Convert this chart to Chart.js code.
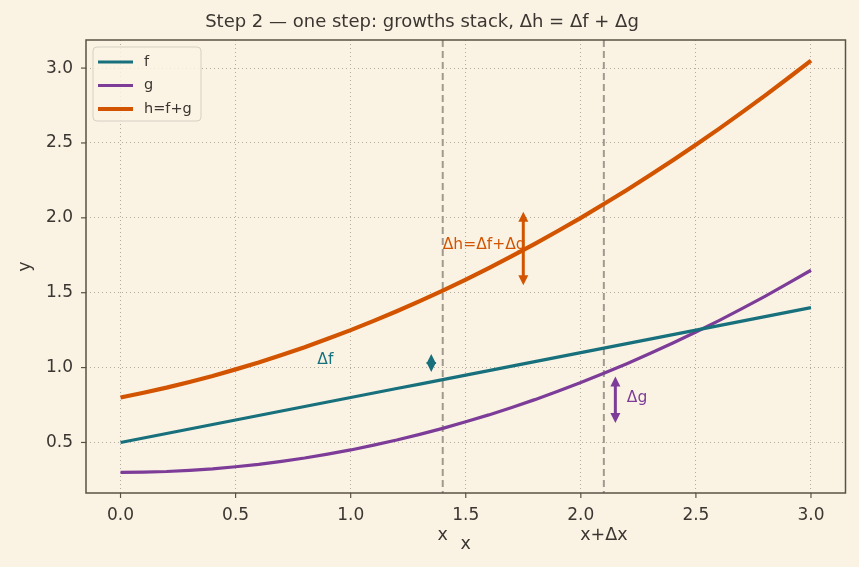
<!DOCTYPE html>
<html>
<head>
<meta charset="utf-8">
<script src="https://cdn.jsdelivr.net/npm/chart.js@4.4.0/dist/chart.umd.min.js"></script>
<style>
  html, body { margin: 0; padding: 0; background: #faf3e4; }
  canvas { display: block; }
</style>
</head>
<body>
<canvas id="stepChart" width="859" height="567"></canvas>
<script>
// values
const xs = [0, 0.1, 0.2, 0.3, 0.4, 0.5, 0.6, 0.7, 0.8, 0.9, 1.0, 1.1, 1.2, 1.3, 1.4, 1.5,
    1.6, 1.7, 1.8, 1.9, 2.0, 2.1, 2.2, 2.3, 2.4, 2.5, 2.6, 2.7, 2.8, 2.9, 3.0]
const fVals = [0.50, 0.53, 0.56, 0.59, 0.62, 0.65, 0.68, 0.71, 0.74, 0.77, 0.80, 0.83, 0.86, 0.89, 0.92, 0.95,
    0.98, 1.01, 1.04, 1.07, 1.10, 1.13, 1.16, 1.19, 1.22, 1.25, 1.28, 1.31, 1.34, 1.37, 1.40]
const gVals = [0.300, 0.302, 0.306, 0.314, 0.324, 0.338, 0.354, 0.374, 0.396, 0.422, 0.450, 0.482, 0.516, 0.554, 0.594, 0.638,
    0.684, 0.734, 0.786, 0.842, 0.900, 0.962, 1.026, 1.094, 1.164, 1.238, 1.314, 1.394, 1.476, 1.562, 1.650]
const hVals = [0.800, 0.832, 0.866, 0.904, 0.944, 0.988, 1.034, 1.084, 1.136, 1.192, 1.250, 1.312, 1.376, 1.444, 1.514, 1.588,
    1.664, 1.744, 1.826, 1.912, 2.000, 2.092, 2.186, 2.284, 2.384, 2.488, 2.594, 2.704, 2.816, 2.932, 3.050]
const seriesNames = ["f", "g", "h=f+g"]
const xTicks = [0, 0.5, 1.0, 1.5, 2.0, 2.5, 3.0]
const yTicks = [0.5, 1.0, 1.5, 2.0, 2.5, 3.0]

// the two marked positions
const markerX = [1.4, 2.1]
const markerLabels = ["x", "x+Δx"]

// growth arrows: x, bottom, top  (f, h, g)
const arrowX = [1.35, 1.75, 2.15]
const arrowLow = [0.97, 1.55, 0.63]
const arrowHigh = [1.09, 2.04, 0.94]
const arrowText = ["Δf", "Δh=Δf+Δg", "Δg"]
const arrowSeries = [0, 2, 1]
const textX = [0.89, 1.40, 2.20]
const textY = [1.05, 1.82, 0.80]

const colors = ["#17707c", "#7d3c98", "#d35400"]
const ink = "#3b3631"
const frame = "#5b5044"
const font = "DejaVu Sans"

const toPoints = vals => vals.map((v, i) => ({ x: xs[i], y: v }))

function drawArrow(ctx, px, y0, y1, color) {
    const head = 10, half = 5
    ctx.save()
    ctx.strokeStyle = color
    ctx.fillStyle = color
    ctx.lineWidth = 3
    ctx.beginPath()
    ctx.moveTo(px, y0 - head + 1)
    ctx.lineTo(px, y1 + head - 1)
    if (y0 - y1 > 2 * head) ctx.stroke()
    ctx.beginPath()
    ctx.moveTo(px, y1)
    ctx.lineTo(px - half, y1 + head)
    ctx.lineTo(px + half, y1 + head)
    ctx.closePath()
    ctx.fill()
    ctx.beginPath()
    ctx.moveTo(px, y0)
    ctx.lineTo(px - half, y0 - head)
    ctx.lineTo(px + half, y0 - head)
    ctx.closePath()
    ctx.fill()
    ctx.restore()
}

const paperPlugin = {
    id: "paper",
    beforeDraw(chart) {
        const ctx = chart.ctx
        ctx.save()
        ctx.fillStyle = "#faf3e4"
        ctx.fillRect(0, 0, chart.width, chart.height)
        ctx.restore()
    },
    beforeDatasetsDraw(chart) {
        const { ctx, chartArea, scales } = chart
        ctx.save()
        ctx.strokeStyle = "#a09a8e"
        ctx.lineWidth = 2
        ctx.setLineDash([7, 4])
        markerX.forEach(mx => {
            const px = scales.x.getPixelForValue(mx)
            ctx.beginPath()
            ctx.moveTo(px, chartArea.top)
            ctx.lineTo(px, chartArea.bottom)
            ctx.stroke()
        })
        ctx.restore()
    },
    afterDraw(chart) {
        const { ctx, chartArea, scales } = chart
        const xs_ = scales.x, ys_ = scales.y
        ctx.save()

        // frame
        ctx.strokeStyle = frame
        ctx.lineWidth = 1.5
        ctx.strokeRect(chartArea.left, chartArea.top, chartArea.right - chartArea.left, chartArea.bottom - chartArea.top)

        // tick marks
        ctx.lineWidth = 1.2
        xTicks.forEach(t => {
            const px = xs_.getPixelForValue(t)
            ctx.beginPath()
            ctx.moveTo(px, chartArea.bottom)
            ctx.lineTo(px, chartArea.bottom + 5)
            ctx.stroke()
        })
        yTicks.forEach(t => {
            const py = ys_.getPixelForValue(t)
            ctx.beginPath()
            ctx.moveTo(chartArea.left - 5, py)
            ctx.lineTo(chartArea.left, py)
            ctx.stroke()
        })

        // arrows and their labels
        arrowX.forEach((ax, i) => {
            const c = colors[arrowSeries[i]]
            drawArrow(ctx, xs_.getPixelForValue(ax), ys_.getPixelForValue(arrowLow[i]), ys_.getPixelForValue(arrowHigh[i]), c)
            ctx.fillStyle = c
            ctx.font = "15.5px '" + font + "'"
            ctx.textBaseline = "middle"
            ctx.textAlign = i == 0 ? "center" : "left"
            ctx.fillText(arrowText[i], xs_.getPixelForValue(textX[i]), ys_.getPixelForValue(textY[i]))
        })

        // marker labels under the axis
        ctx.fillStyle = ink
        ctx.font = "17.5px '" + font + "'"
        ctx.textAlign = "center"
        ctx.textBaseline = "middle"
        markerX.forEach((mx, i) => {
            ctx.fillText(markerLabels[i], xs_.getPixelForValue(mx), 535)
        })

        // axis titles
        ctx.fillText("x", (chartArea.left + chartArea.right) / 2, 544)
        ctx.save()
        ctx.translate(25, (chartArea.top + chartArea.bottom) / 2)
        ctx.rotate(-Math.PI / 2)
        ctx.fillText("y", 0, 0)
        ctx.restore()

        // title
        ctx.font = "18px '" + font + "'"
        ctx.fillText("Step 2 — one step: growths stack, Δh = Δf + Δg", 422, 22)

        // legend
        const lx = chartArea.left + 7, ly = chartArea.top + 7
        ctx.fillStyle = "rgba(250,243,228,0.85)"
        ctx.strokeStyle = "#d6cfc2"
        ctx.lineWidth = 1
        ctx.beginPath()
        ctx.roundRect(lx, ly, 108, 74, 4)
        ctx.fill()
        ctx.stroke()
        ctx.font = "14.5px '" + font + "'"
        ctx.textAlign = "left"
        seriesNames.forEach((name, i) => {
            const yy = ly + 15 + i * 23.5
            ctx.strokeStyle = colors[i]
            ctx.lineWidth = i == 2 ? 4 : 3
            ctx.beginPath()
            ctx.moveTo(lx + 5, yy)
            ctx.lineTo(lx + 40, yy)
            ctx.stroke()
            ctx.fillStyle = ink
            ctx.fillText(name, lx + 51, yy)
        })
        ctx.restore()
    }
}

const seriesVals = [fVals, gVals, hVals]

new Chart("stepChart", {
    type: "line",
    data: {
        datasets: seriesNames.map((name, i) => ({
            label: name,
            data: toPoints(seriesVals[i]),
            borderColor: colors[i],
            borderWidth: i == 2 ? 4.2 : 3.2,
            pointRadius: 0,
            tension: 0,
            fill: false
        }))
    },
    options: {
        responsive: false,
        animation: false,
        layout: { padding: { top: 40, right: 13.5, left: 0, bottom: 0 } },
        plugins: {
            legend: { display: false },
            title: { display: false },
            tooltip: { enabled: false }
        },
        scales: {
            x: {
                type: "linear",
                min: -0.15,
                max: 3.15,
                afterFit: scale => { scale.height = 74 },
                afterBuildTicks: scale => { scale.ticks = xTicks.map(v => ({ value: v })) },
                grid: { color: "#b3ab9d", lineWidth: 1, drawTicks: false },
                border: { display: false, dash: [1, 3] },
                ticks: {
                    color: ink,
                    font: { family: font, size: 17 },
                    padding: 12,
                    maxRotation: 0,
                    callback: v => Number(v).toFixed(1)
                }
            },
            y: {
                min: 0.1625,
                max: 3.1875,
                afterFit: scale => { scale.width = 86 },
                afterBuildTicks: scale => { scale.ticks = yTicks.map(v => ({ value: v })) },
                grid: { color: "#b3ab9d", lineWidth: 1, drawTicks: false },
                border: { display: false, dash: [1, 3] },
                ticks: {
                    color: ink,
                    font: { family: font, size: 17 },
                    padding: 13,
                    callback: v => Number(v).toFixed(1)
                }
            }
        }
    },
    plugins: [paperPlugin]
})
</script>
</body>
</html>
